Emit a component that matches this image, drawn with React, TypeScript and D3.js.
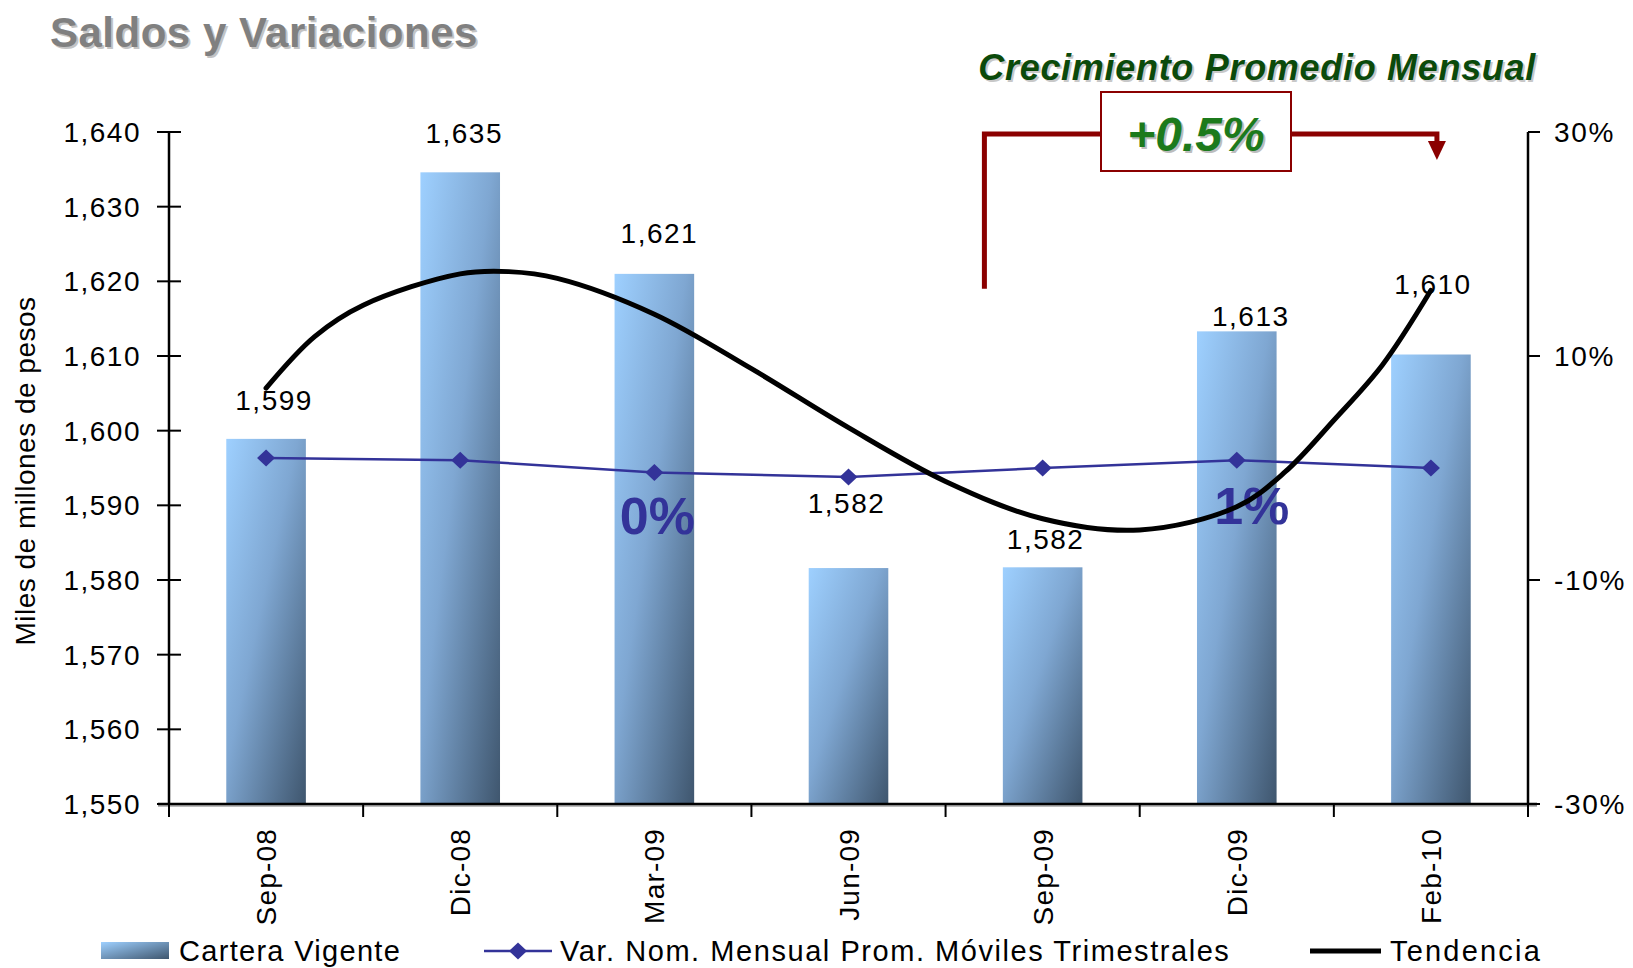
import React from "react";
import * as d3 from "d3";

// ---------- data ----------
const categories = ["Sep-08", "Dic-08", "Mar-09", "Jun-09", "Sep-09", "Dic-09", "Feb-10"];
const carteraVigente = [1598.9, 1634.6, 1621.0, 1581.6, 1581.7, 1613.3, 1610.2];
const varNomMensual = [0.9, 0.7, -0.4, -0.8, 0.0, 0.7, 0.0];
const trendIndex = [0, 0.25, 0.5, 1, 1.25, 1.5, 2, 2.5, 3, 3.5, 4, 4.5, 5, 5.25, 5.5, 5.75, 6];
const trendValues = [1605.7, 1612.6, 1616.8, 1621.0, 1621.3, 1620.4, 1615.6, 1608.3, 1600.4, 1593.2, 1588.2, 1586.7, 1589.8, 1594.5, 1601.4, 1608.8, 1618.8];
const leftTicks = [1550, 1560, 1570, 1580, 1590, 1600, 1610, 1620, 1630, 1640];
const rightTicks = [-30, -10, 10, 30];
const periodNotes = [
  { category: "Mar-09", text: "0%" },
  { category: "Dic-09", text: "1%" },
];
const growthTitle = "Crecimiento Promedio Mensual";
const growthValue = "+0.5%";
const legendItems = ["Cartera Vigente", "Var. Nom. Mensual Prom. Móviles Trimestrales", "Tendencia"];

// label placement tweaks (style only)
const labelDy = [-39, -39, -41, -65, -28, -15, -71];
const labelDx = [8, 4, 5, -2, 3, 14, 2];

const W = 1633;
const H = 968;
const M = { left: 169, right: 1528, top: 132, bottom: 804 };
const FONT = "'Liberation Sans', Arial, Helvetica, sans-serif";
const BLUE = "#333399";
const RED = "#8B0000";

function ShadowText(props: any) {
  const { x, y, children, shadow, dx = 2, dy = 2, ...rest } = props;
  return (
    <g>
      <text x={x + dx} y={y + dy} {...rest} fill={shadow}>{children}</text>
      <text x={x} y={y} {...rest}>{children}</text>
    </g>
  );
}

export default function App() {
  const x = d3.scaleBand<string>().domain(categories).range([M.left, M.right]).paddingInner(0.59).paddingOuter(0.295);
  const yL = d3.scaleLinear().domain([1550, 1640]).range([M.bottom, M.top]);
  const yR = d3.scaleLinear().domain([-30, 30]).range([M.bottom, M.top]);
  const bw = x.bandwidth();
  const cx = (c: string) => (x(c) as number) + bw / 2;
  const xIdx = d3.scaleLinear().domain([0, categories.length - 1]).range([cx(categories[0]), cx(categories[categories.length - 1])]);
  const fmt = d3.format(",.0f");

  const trendPath = d3
    .line<number>()
    .x((_, i) => xIdx(trendIndex[i]))
    .y((d) => yL(d))
    .curve(d3.curveCatmullRom.alpha(0.5))(trendValues) as string;
  const varPath = d3
    .line<number>()
    .x((_, i) => cx(categories[i]))
    .y((d) => yR(d))(varNomMensual) as string;

  const step = x.step();
  const boundaries = categories.map((c) => (x(c) as number) - (step - bw) / 2);
  boundaries.push(M.right);

  const diamond = "M0,-8.5L9,0L0,8.5L-9,0Z";

  // bracket geometry
  const bx0 = xIdx(3.7);
  const bx1 = cx("Feb-10") + 6;
  const byTop = yL(1640);
  const byBot = yL(1619);
  const boxX0 = 1101, boxX1 = 1291, boxY0 = 92, boxY1 = 171;

  return (
    <svg width={W} height={H} style={{ position: "absolute", left: 0, top: 0, background: "#fff" }} fontFamily={FONT}>
      <defs>
        <linearGradient id="barGrad" x1="0" y1="0" x2="1" y2="1">
          <stop offset="0" stopColor="#9ED0FF" />
          <stop offset="0.45" stopColor="#7FA7D2" />
          <stop offset="1" stopColor="#3F566E" />
        </linearGradient>
        <linearGradient id="legGrad" x1="0" y1="0" x2="1" y2="1">
          <stop offset="0" stopColor="#9ED0FF" />
          <stop offset="1" stopColor="#3F566E" />
        </linearGradient>
      </defs>

      {/* title */}
      <ShadowText x={50} y={47} fontSize={42} fontWeight="bold" fill="#808080" shadow="#C4C4C4" letterSpacing={0.5}>
        Saldos y Variaciones
      </ShadowText>

      {/* bars */}
      {categories.map((c, i) => (
        <rect key={c} x={x(c)} y={yL(carteraVigente[i])} width={bw} height={M.bottom - yL(carteraVigente[i])} fill="url(#barGrad)" />
      ))}

      {/* data labels */}
      {categories.map((c, i) => (
        <text key={c} x={cx(c) + labelDx[i]} y={yL(carteraVigente[i]) + labelDy[i]} dy="0.36em" textAnchor="middle" fontSize={28} letterSpacing={1.5} fill="#000">
          {fmt(carteraVigente[i])}
        </text>
      ))}

      {/* period notes */}
      {periodNotes.map((n, i) => (
        <text key={n.text} x={cx(n.category) + (i === 0 ? 3 : 15)} y={i === 0 ? 534 : 524} textAnchor="middle" fontSize={52} fontWeight="bold" fill={BLUE}>
          {n.text}
        </text>
      ))}

      {/* axes */}
      <line x1={M.left} x2={M.left} y1={M.top} y2={M.bottom} stroke="#000" strokeWidth={2.5} />
      {leftTicks.map((t) => (
        <g key={t}>
          <line x1={M.left - 12} x2={M.left + 12} y1={yL(t)} y2={yL(t)} stroke="#000" strokeWidth={2} />
          <text x={141} y={yL(t)} dy="0.36em" textAnchor="end" fontSize={28} letterSpacing={1.5}>
            {d3.format(",")(t)}
          </text>
        </g>
      ))}
      <line x1={M.right} x2={M.right} y1={M.top} y2={M.bottom} stroke="#000" strokeWidth={2.5} />
      {rightTicks.map((t) => (
        <g key={t}>
          <line x1={M.right} x2={M.right + 12} y1={yR(t)} y2={yR(t)} stroke="#000" strokeWidth={2} />
          <text x={1554} y={yR(t)} dy="0.36em" textAnchor="start" fontSize={28} letterSpacing={1.7}>
            {t + "%"}
          </text>
        </g>
      ))}
      <line x1={M.left - 11} x2={M.right + 9} y1={M.bottom + 2} y2={M.bottom + 2} stroke="#bbb" strokeWidth={2} />
      <line x1={M.left - 11} x2={M.right + 9} y1={M.bottom} y2={M.bottom} stroke="#000" strokeWidth={2.5} />
      {boundaries.map((b, i) => (
        <line key={i} x1={b} x2={b} y1={M.bottom} y2={M.bottom + 13} stroke="#000" strokeWidth={2} />
      ))}
      {categories.map((c) => (
        <text key={c} transform={`translate(${cx(c) + 10},828) rotate(-90)`} textAnchor="end" fontSize={28} letterSpacing={1.2}>
          {c}
        </text>
      ))}

      {/* Y title */}
      <text transform={`translate(35,471) rotate(-90)`} textAnchor="middle" fontSize={28} letterSpacing={0.5}>
        Miles de millones de pesos
      </text>

      {/* var line */}
      <path d={varPath} fill="none" stroke={BLUE} strokeWidth={2.5} />
      {varNomMensual.map((v, i) => (
        <path key={i} d={diamond} transform={`translate(${cx(categories[i])},${yR(v)})`} fill={BLUE} />
      ))}

      {/* trend line */}
      <path d={trendPath} fill="none" stroke="#000" strokeWidth={5} strokeLinejoin="round" strokeLinecap="round" />

      {/* growth annotation */}
      <ShadowText x={1536} y={80} textAnchor="end" fontSize={36} fontWeight="bold" fontStyle="italic" fill="#0B4A0B" shadow="#C8C8C8" letterSpacing={0.7}>
        {growthTitle}
      </ShadowText>
      <path d={`M${bx0},${byBot}V${byTop + 2}H${boxX0}M${boxX1},${byTop + 2}H${bx1}V${byTop + 12}`} fill="none" stroke={RED} strokeWidth={5} />
      <path d={`M${bx1 - 9},${byTop + 9}L${bx1 + 9},${byTop + 9}L${bx1},${byTop + 28}Z`} fill={RED} />
      <rect x={boxX0} y={boxY0} width={boxX1 - boxX0} height={boxY1 - boxY0} fill="#fff" stroke={RED} strokeWidth={2} />
      <ShadowText x={(boxX0 + boxX1) / 2} y={151} textAnchor="middle" fontSize={48} fontWeight="bold" fontStyle="italic" fill="#1C7A1C" shadow="#BDBDBD">
        {growthValue}
      </ShadowText>

      {/* legend */}
      <rect x={101} y={942} width={68} height={17} fill="url(#legGrad)" />
      <text x={179} y={961} fontSize={29} letterSpacing={1.3}>{legendItems[0]}</text>
      <line x1={484} x2={552} y1={951} y2={951} stroke={BLUE} strokeWidth={2.5} />
      <path d={diamond} transform="translate(518,951)" fill={BLUE} />
      <text x={560} y={961} fontSize={29} letterSpacing={1.55}>{legendItems[1]}</text>
      <line x1={1310} x2={1381} y1={951} y2={951} stroke="#000" strokeWidth={5} />
      <text x={1390} y={961} fontSize={29} letterSpacing={2.2}>{legendItems[2]}</text>
    </svg>
  );
}
